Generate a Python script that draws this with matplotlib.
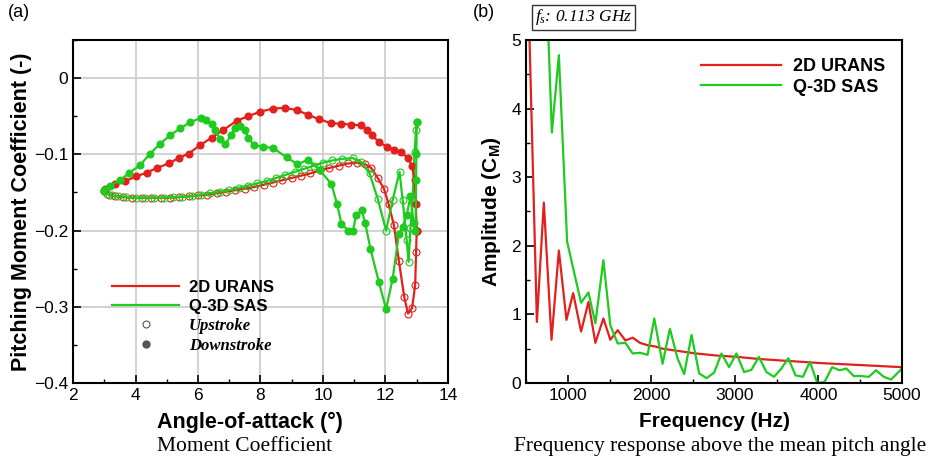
import numpy as np
import matplotlib.pyplot as plt
from matplotlib.lines import Line2D
from matplotlib.ticker import MultipleLocator, FuncFormatter

plt.rcParams['font.family'] = ['Liberation Sans', 'DejaVu Sans']
plt.rcParams['mathtext.fontset'] = 'custom'
plt.rcParams['mathtext.rm'] = 'Liberation Sans'
plt.rcParams['mathtext.it'] = 'Liberation Serif:italic'
plt.rcParams['mathtext.bf'] = 'Liberation Sans:bold'

RED = '#e3201b'
GREEN = '#1ecb1e'

# ---- (a) moment coefficient loops ----
urans_up_aoa = [3.0, 3.15, 3.35, 3.6, 3.9, 4.2, 4.5, 4.8, 5.1, 5.4, 5.7, 6.0, 6.3, 6.6, 6.9, 7.2, 7.5, 7.8,
                8.1, 8.4, 8.7, 9.0, 9.3, 9.6, 9.9, 10.2, 10.5, 10.8, 11.1, 11.35, 11.55, 11.75, 11.95, 12.1,
                12.27, 12.43, 12.6, 12.72, 12.85, 12.95, 12.98, 13.0]
urans_up_cm = [-0.148, -0.153, -0.155, -0.156, -0.157, -0.157, -0.157, -0.157, -0.157, -0.156, -0.155, -0.154,
               -0.153, -0.151, -0.149, -0.147, -0.145, -0.143, -0.140, -0.137, -0.134, -0.131, -0.128, -0.125,
               -0.121, -0.118, -0.115, -0.112, -0.111, -0.113, -0.118, -0.131, -0.145, -0.165, -0.193, -0.240,
               -0.287, -0.309, -0.302, -0.272, -0.228, -0.200]
urans_down_aoa = [13.0, 12.97, 12.93, 12.85, 12.72, 12.5, 12.27, 12.04, 11.79, 11.57, 11.4, 11.22, 10.9, 10.59,
                  10.25, 9.87, 9.52, 9.16, 8.78, 8.41, 7.99, 7.61, 7.24, 6.81, 6.44, 6.07, 5.70, 5.38, 5.06,
                  4.68, 4.36, 4.02, 3.67, 3.35, 3.03]
urans_down_cm = [-0.200, -0.165, -0.134, -0.115, -0.105, -0.097, -0.094, -0.090, -0.084, -0.075, -0.068, -0.062,
                 -0.061, -0.060, -0.059, -0.054, -0.048, -0.042, -0.039, -0.040, -0.044, -0.050, -0.056, -0.068,
                 -0.078, -0.088, -0.099, -0.105, -0.112, -0.118, -0.124, -0.129, -0.135, -0.139, -0.146]

sas_up_aoa = [3.0, 3.1, 3.25, 3.45, 3.7, 4.0, 4.3, 4.6, 4.9, 5.2, 5.5, 5.8, 6.1, 6.4, 6.7, 7.0, 7.3, 7.6, 7.9,
              8.2, 8.5, 8.8, 9.1, 9.4, 9.7, 10.0, 10.3, 10.6, 10.96, 11.22, 11.49, 11.75, 12.02, 12.23, 12.45,
              12.55, 12.68, 12.74, 12.80, 12.87, 12.93, 12.98, 13.0]
sas_up_cm = [-0.148, -0.152, -0.154, -0.155, -0.156, -0.157, -0.157, -0.157, -0.157, -0.156, -0.156, -0.155,
             -0.153, -0.151, -0.149, -0.147, -0.144, -0.141, -0.138, -0.135, -0.131, -0.127, -0.123, -0.119,
             -0.115, -0.111, -0.108, -0.106, -0.105, -0.110, -0.125, -0.158, -0.200, -0.160, -0.123, -0.160,
             -0.213, -0.241, -0.197, -0.160, -0.097, -0.068, -0.057]
sas_down_aoa = [13.0, 12.99, 12.98, 12.96, 12.9, 12.8, 12.68, 12.55, 12.43, 12.23, 12.02, 11.79, 11.52, 11.35,
                11.24, 11.06, 10.96, 10.8, 10.59, 10.45, 10.27, 9.9, 9.53, 9.18, 8.84, 8.41, 8.09, 7.8, 7.6,
                7.5, 7.35, 7.2, 7.05, 6.88, 6.7, 6.55, 6.44, 6.25, 6.1, 5.75, 5.43, 5.11, 4.79, 4.47, 4.15,
                3.78, 3.51, 3.19, 2.98]
sas_down_cm = [-0.057, -0.100, -0.134, -0.200, -0.190, -0.155, -0.180, -0.195, -0.204, -0.263, -0.303, -0.268,
               -0.224, -0.190, -0.173, -0.180, -0.200, -0.200, -0.191, -0.165, -0.139, -0.121, -0.107, -0.113,
               -0.104, -0.092, -0.090, -0.088, -0.078, -0.068, -0.063, -0.065, -0.075, -0.087, -0.080, -0.068,
               -0.060, -0.055, -0.052, -0.058, -0.066, -0.075, -0.086, -0.099, -0.114, -0.125, -0.134, -0.141,
               -0.147]

# ---- (b) frequency response ----
urans_freq = [500, 542, 630, 713, 805, 893, 984, 1064, 1159, 1247, 1330, 1426, 1509, 1597, 1689, 1776, 1864,
              1955, 2055, 2134, 2300, 2532, 2780, 3030, 3280, 3527, 3780, 4025, 4270, 4522, 4760, 5000]
urans_amp = [7.0, 5.0, 0.89, 2.63, 0.63, 1.93, 0.92, 1.31, 0.75, 1.18, 0.585, 0.94, 0.63, 0.77, 0.62, 0.66,
             0.585, 0.55, 0.53, 0.50, 0.47, 0.43, 0.40, 0.38, 0.35, 0.33, 0.31, 0.29, 0.275, 0.26, 0.245, 0.23]
sas_freq = [720, 769, 809, 893, 992, 1068, 1159, 1247, 1330, 1426, 1509, 1597, 1689, 1776, 1864, 1955, 2035,
            2134, 2222, 2313, 2393, 2481, 2572, 2660, 2751, 2839, 2930, 3018, 3110, 3197, 3288, 3376, 3468,
            3556, 3639, 3726, 3814, 3898, 3985, 4073, 4164, 4252, 4335, 4423, 4514, 4602, 4690, 4781, 4869,
            5000]
sas_amp = [6.5, 5.0, 3.65, 4.78, 2.06, 1.65, 1.17, 1.32, 0.87, 1.79, 0.84, 0.575, 0.585, 0.43, 0.44, 0.41,
           0.94, 0.28, 0.79, 0.36, 0.13, 0.70, 0.14, 0.07, 0.15, 0.43, 0.23, 0.43, 0.16, 0.19, 0.38, 0.16, 0.09,
           0.21, 0.36, 0.11, 0.09, 0.31, 0.0, 0.015, 0.23, 0.185, 0.21, 0.10, 0.10, 0.09, 0.185, 0.09, 0.05,
           0.21]

fig = plt.figure(figsize=(9.35, 4.57), dpi=100)
ax1 = fig.add_axes([0.0781, 0.162, 0.401, 0.7505])
ax2 = fig.add_axes([0.5626, 0.162, 0.4021, 0.7505])

for ax in (ax1, ax2):
    for sp in ax.spines.values():
        sp.set_linewidth(1.5)
    ax.tick_params(direction='in', which='major', length=6, width=1.2, labelsize=12.5, top=False, right=False)
    ax.tick_params(direction='in', which='minor', length=3, width=1.0, top=False, right=False)

# left panel
for a, c, col in [(urans_up_aoa, urans_up_cm, RED), (sas_up_aoa, sas_up_cm, GREEN)]:
    ax1.plot(a, c, color=col, lw=1.6, marker='o', ms=5, mfc='none', mec=col, mew=0.8, zorder=3)
for a, c, col in [(urans_down_aoa, urans_down_cm, RED), (sas_down_aoa, sas_down_cm, GREEN)]:
    ax1.plot(a, c, color=col, lw=1.6, marker='o', ms=4.8, mfc=col, mec=col, zorder=3)
ax1.set_xlim(2, 14)
ax1.set_ylim(-0.4, 0.05)
ax1.xaxis.set_major_locator(MultipleLocator(2))
ax1.xaxis.set_minor_locator(MultipleLocator(1))
ax1.yaxis.set_major_locator(MultipleLocator(0.1))
ax1.yaxis.set_minor_locator(MultipleLocator(0.05))
ax1.yaxis.set_major_formatter(FuncFormatter(lambda v, p: ('%g' % round(v, 2)).replace('-', '\u2212')))
ax1.grid(True, which='major', color='#cfcfcf', lw=1.3, zorder=0)
ax1.set_axisbelow(True)
ax1.set_xlabel('Angle-of-attack (°)', fontsize=15.5, fontweight='bold')
ax1.xaxis.set_label_coords(0.472, -0.085)
ax1.set_ylabel('Pitching Moment Coefficient (-)', fontsize=15.5, fontweight='bold', labelpad=1)

handles = [Line2D([], [], color=RED, lw=1.6), Line2D([], [], color=GREEN, lw=1.6),
           Line2D([], [], ls='none', marker='o', ms=5, mfc='none', mec='#555555', mew=0.8),
           Line2D([], [], ls='none', marker='o', ms=5, mfc='#555555', mec='#555555')]
leg = ax1.legend(handles, ['2D URANS', 'Q-3D SAS', 'Upstroke', 'Downstroke'], loc='lower left',
                 bbox_to_anchor=(0.065, 0.04), frameon=False, handlelength=4.0, handletextpad=0.6,
                 labelspacing=0.25, fontsize=12)
for i, t in enumerate(leg.get_texts()):
    if i < 2:
        t.set_fontweight('bold')
    else:
        t.set_fontfamily('Liberation Serif')
        t.set_fontstyle('italic')
        t.set_fontweight('bold')

# right panel
ax2.plot(urans_freq, urans_amp, color=RED, lw=1.6, label='2D URANS')
ax2.plot(sas_freq, sas_amp, color=GREEN, lw=1.6, label='Q-3D SAS')
ax2.set_xlim(500, 5000)
ax2.set_ylim(0, 5)
ax2.xaxis.set_major_locator(MultipleLocator(1000))
ax2.xaxis.set_minor_locator(MultipleLocator(500))
ax2.yaxis.set_major_locator(MultipleLocator(1))
ax2.yaxis.set_minor_locator(MultipleLocator(0.5))
ax2.set_xlabel('Frequency (Hz)', fontsize=15, fontweight='bold')
ax2.xaxis.set_label_coords(0.5, -0.085)
ax2.set_ylabel(r'Amplitude (C$_{\mathbf{M}}$)', fontsize=15, fontweight='bold', labelpad=6)
leg2 = ax2.legend(loc='upper right', bbox_to_anchor=(1.0, 0.995), frameon=False, handlelength=4.4,
                  handletextpad=0.7, labelspacing=0.2, fontsize=13)
for t in leg2.get_texts():
    t.set_fontweight('bold')

fig.text(0.008, 0.962, '(a)', fontsize=13)
fig.text(0.506, 0.962, '(b)', fontsize=13)
fig.text(0.572, 0.953, r'$\mathit{f_s}$: 0.113 GHz', fontsize=12.5, fontfamily='Liberation Serif',
         fontstyle='italic', bbox=dict(boxstyle='square,pad=0.15', fc='white', ec='#333333', lw=1))
fig.text(0.262, 0.013, 'Moment Coefficient', fontsize=15.5, fontfamily='Liberation Serif', ha='center')
fig.text(0.770, 0.013, 'Frequency response above the mean pitch angle', fontsize=15.5,
         fontfamily='Liberation Serif', ha='center')

fig.savefig('out.png', dpi=100)
